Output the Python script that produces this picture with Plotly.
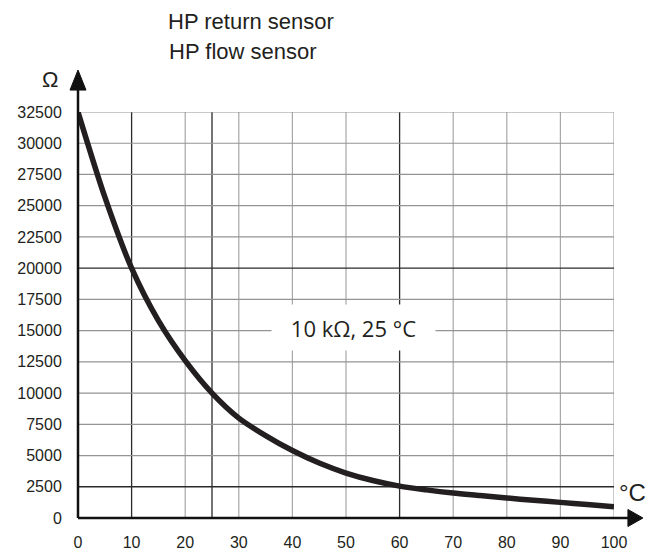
import plotly.graph_objects as go

# Data
temps_c = [0, 5, 10, 15, 20, 25, 30, 35, 40, 45, 50, 55, 60, 65, 70, 75, 80, 85, 90, 95, 100]
resistance_ohm = [32500, 25700, 20000, 15800, 12600, 10000, 8000, 6600, 5400, 4400, 3600,
                  3000, 2550, 2250, 2000, 1800, 1600, 1420, 1250, 1080, 900]

x_ticks = [0, 10, 20, 30, 40, 50, 60, 70, 80, 90, 100]
y_ticks = [0, 2500, 5000, 7500, 10000, 12500, 15000, 17500, 20000, 22500, 25000, 27500, 30000, 32500]
x_grid = [10, 20, 25, 30, 40, 50, 60, 70, 80, 90, 100]
y_grid = [2500, 5000, 7500, 10000, 12500, 15000, 17500, 20000, 22500, 25000, 27500, 30000, 32500]
x_dark = [10, 25, 60]
y_dark = [2500, 20000]

title_lines = ["HP return sensor", "HP flow sensor"]
point_label = "10 kΩ, 25 °C"

TXT = "#231f20"
FONT = "Liberation Sans, Arial, sans-serif"

fig = go.Figure()
fig.add_trace(go.Scatter(
    x=temps_c, y=resistance_ohm, mode="lines",
    line=dict(color=TXT, width=5.5, shape="spline", smoothing=0.8),
    hoverinfo="skip", showlegend=False,
))

shapes = []
for gx in x_grid:
    dark = gx in x_dark
    shapes.append(dict(type="line", xref="x", yref="y", x0=gx, x1=gx, y0=0, y1=32500,
                       layer="below",
                       line=dict(color="#2b2b2b" if dark else "#a8a8a8", width=1.3 if dark else 1.2)))
for gy in y_grid:
    dark = gy in y_dark
    shapes.append(dict(type="line", xref="x", yref="y", x0=0, x1=100, y0=gy, y1=gy,
                       layer="below",
                       line=dict(color="#2b2b2b" if dark else "#949494", width=1.3 if dark else 1.2)))

# axis lines with arrow heads (paper coords)
shapes.append(dict(type="line", xref="paper", yref="paper", x0=0, x1=0, y0=0, y1=1.06,
                   line=dict(color="#111", width=2.5)))
shapes.append(dict(type="line", xref="paper", yref="paper", x0=0, x1=1.03, y0=0, y1=0,
                   line=dict(color="#111", width=2.5)))
shapes.append(dict(type="path", xref="paper", yref="paper",
                   path="M -0.0149 1.054 L 0.0149 1.054 L 0 1.1034 Z",
                   fillcolor="#111", line=dict(color="#111", width=1)))
shapes.append(dict(type="path", xref="paper", yref="paper",
                   path="M 1.026 -0.021 L 1.026 0.021 L 1.054 0 Z",
                   fillcolor="#111", line=dict(color="#111", width=1)))

annotations = [
    dict(text=title_lines[0], xref="paper", yref="paper", x=0.166, y=1.2562,
         xanchor="left", yanchor="top", showarrow=False, borderpad=0,
         font=dict(family=FONT, size=22, color=TXT)),
    dict(text=title_lines[1], xref="paper", yref="paper", x=0.166, y=1.148,
         xanchor="left", yanchor="middle", showarrow=False,
         font=dict(family=FONT, size=22, color=TXT)),
    dict(text="Ω", xref="paper", yref="paper", x=-0.0522, y=1.081,
         xanchor="center", yanchor="middle", showarrow=False,
         font=dict(family=FONT, size=22, color=TXT)),
    dict(text="°C", xref="paper", yref="paper", x=1.0336, y=0.0616,
         xanchor="center", yanchor="middle", showarrow=False,
         font=dict(family=FONT, size=24, color=TXT)),
    dict(text=point_label, xref="x", yref="y", x=51.4, y=15210,
         xanchor="center", yanchor="middle", showarrow=False,
         bgcolor="white", width=163, height=45, borderpad=0,
         font=dict(family="Open Sans, Noto Sans, sans-serif", size=22, color=TXT)),
]

# The page body has an 8px margin; margins are shifted so the plot lands where the reference has it.
fig.update_layout(
    width=657, height=553,
    margin=dict(l=70, r=51, t=104, b=43),
    paper_bgcolor="white", plot_bgcolor="white",
    shapes=shapes, annotations=annotations,
    xaxis=dict(range=[0, 100], tickvals=x_ticks, ticktext=[str(v) for v in x_ticks],
               showgrid=False, zeroline=False, showline=False, automargin=False,
               ticks="outside", ticklen=10, tickcolor="rgba(0,0,0,0)",
               tickfont=dict(family=FONT, size=16, color=TXT)),
    yaxis=dict(range=[0, 32500], tickvals=y_ticks, ticktext=[str(v) for v in y_ticks],
               showgrid=False, zeroline=False, showline=False, automargin=False,
               ticks="outside", ticklen=12, tickcolor="rgba(0,0,0,0)",
               tickfont=dict(family=FONT, size=16, color=TXT)),
)

fig.write_html("out.html")
